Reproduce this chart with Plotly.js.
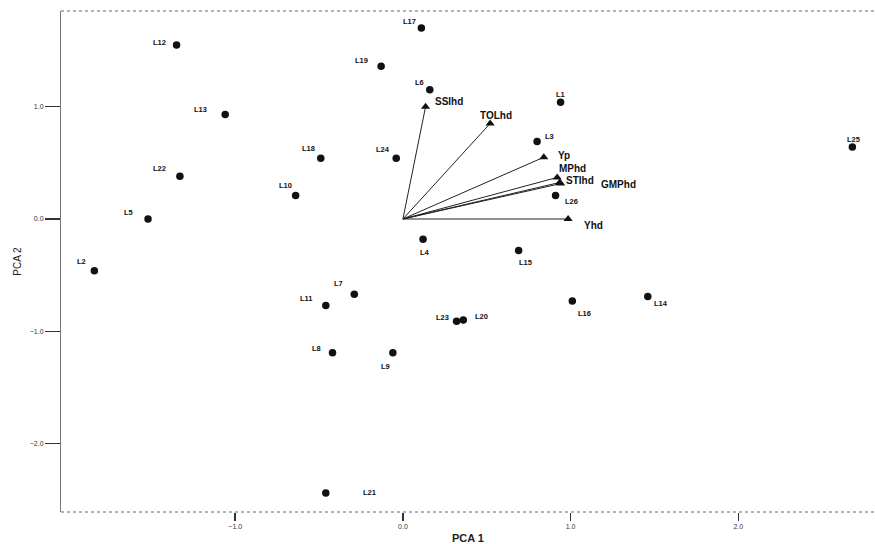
<!DOCTYPE html>
<html>
<head>
<meta charset="utf-8">
<script src="https://cdn.plot.ly/plotly-3.0.1.min.js"></script>
<style>html,body{margin:0;padding:0;background:#fff;}#chart{width:875px;height:544px;}</style>
</head>
<body>
<div id="chart"></div>
<script>
// Genotype scores (PCA 1, PCA 2)
const genotypes = ['L1','L2','L3','L4','L5','L6','L7','L8','L9','L10','L11','L12','L13','L14','L15','L16','L17','L18','L19','L20','L21','L22','L23','L24','L25','L26'];
const pc1 = [0.94,-1.84,0.80,0.12,-1.52,0.16,-0.29,-0.42,-0.06,-0.64,-0.46,-1.35,-1.06,1.46,0.69,1.01,0.11,-0.49,-0.13,0.36,-0.46,-1.33,0.32,-0.04,2.68,0.91];
const pc2 = [1.04,-0.46,0.69,-0.18,0.00,1.15,-0.67,-1.19,-1.19,0.21,-0.77,1.55,0.93,-0.69,-0.28,-0.73,1.70,0.54,1.36,-0.90,-2.44,0.38,-0.91,0.54,0.64,0.21];

// Index vectors (loadings)
const indices = ['SSIhd','TOLhd','Yp','MPhd','STIhd','GMPhd','Yhd'];
const vec1 = [0.135,0.52,0.84,0.92,0.935,0.94,0.985];
const vec2 = [1.00,0.85,0.55,0.37,0.325,0.315,0.00];

// label placement (pixel offsets of label centre from its mark)
const ptLabelOffset = [[0,-8],[-13,-9],[12,-5],[2,13],[-20,-6],[-10,-7],[-16,-11],[-16,-4],[-7,14],[-10,-10],[-19,-7],[-17,-2],[-25,-5],[13,7],[7,12],[12,13],[-12,-7],[-12,-10],[-20,-6],[18,-4],[44,-1],[-20,-8],[-14,-4],[-13,-9],[1,-8],[16,6]];
const vecLabelOffset = [[8,-5],[6,-8],[13,-2],[1,-9],[5,-2],[39,1],[15,7]];
const vecLabelAnchor = ['left','center','left','left','left','left','left'];

const traces = [];
indices.forEach((n,i)=>{
  traces.push({x:[0,vec1[i]], y:[0,vec2[i]], mode:'lines', type:'scatter',
    line:{color:'#222', width:1}, hoverinfo:'skip', showlegend:false});
});
traces.push({x:vec1, y:vec2, mode:'markers', type:'scatter', text:indices,
  marker:{symbol:'triangle-up', size:8, color:'#111'}, showlegend:false});
traces.push({x:pc1, y:pc2, mode:'markers', type:'scatter', text:genotypes,
  marker:{symbol:'circle', size:7.5, color:'#111'}, showlegend:false});

const annotations = [];
genotypes.forEach((g,i)=>{
  annotations.push({x:pc1[i], y:pc2[i], text:g, showarrow:false, xref:'x', yref:'y',
    xshift:ptLabelOffset[i][0], yshift:-ptLabelOffset[i][1],
    font:{family:'Liberation Sans, Arial, sans-serif', size:7.5, color:'#111', weight:'bold'}});
});
indices.forEach((n,i)=>{
  annotations.push({x:vec1[i], y:vec2[i], text:n, showarrow:false, xref:'x', yref:'y',
    xanchor:vecLabelAnchor[i], xshift:vecLabelOffset[i][0], yshift:-vecLabelOffset[i][1],
    borderpad:0,
    font:{family:'Liberation Sans, Arial, sans-serif', size:10, color:'#111', weight:'bold'}});
});

const layout = {
  width:875, height:544,
  margin:{l:61, r:0, t:11, b:32},
  paper_bgcolor:'#fff', plot_bgcolor:'#fff',
  font:{family:'Liberation Sans, Arial, sans-serif', color:'#222'},
  xaxis:{range:[-2.039,2.815], tickvals:[-1,0,1,2], tickformat:'.1f',
    ticks:'outside', ticklen:8, tickwidth:1.5, tickcolor:'#333',
    showgrid:false, zeroline:false, showline:false,
    tickfont:{size:7, color:'#333'},
    title:{text:'PCA 1', font:{size:11, color:'#222', weight:'bold'}, standoff:6}},
  yaxis:{range:[-2.609,1.852], tickvals:[-2,-1,0,1], tickformat:'.1f',
    ticks:'outside', ticklen:15, tickwidth:1.5, tickcolor:'#333',
    showgrid:false, zeroline:false, showline:true, linecolor:'#777', linewidth:1,
    tickfont:{size:7, color:'#333'},
    title:{text:'PCA 2', font:{size:10, color:'#222'}, standoff:6}},
  shapes:[
    {type:'line', xref:'paper', yref:'paper', x0:0, x1:1, y0:1, y1:1, line:{color:'#666', width:1, dash:'dot'}},
    {type:'line', xref:'paper', yref:'paper', x0:0, x1:1, y0:0, y1:0, line:{color:'#666', width:1, dash:'dot'}}
  ],
  annotations:annotations
};
Plotly.newPlot('chart', traces, layout, {displayModeBar:false, staticPlot:true});
</script>
</body>
</html>
